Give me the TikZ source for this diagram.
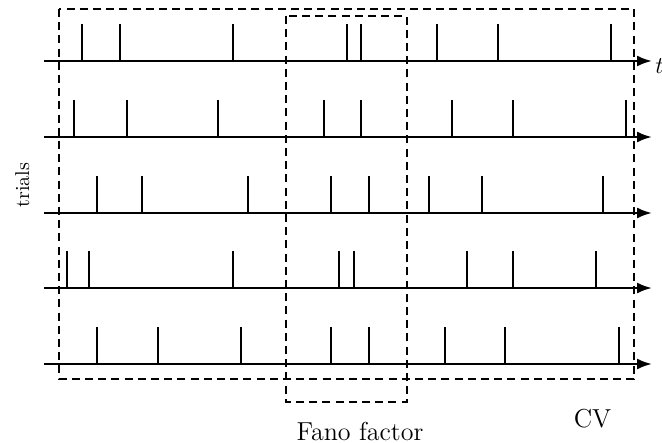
\documentclass[tikz,border=0pt]{standalone}
\usetikzlibrary{arrows.meta}
\begin{document}
\begin{tikzpicture}[x=0.5pt,y=-0.5pt,
  axisline/.style={line width=1.2pt,-{Latex[length=7.5pt,width=5.5pt]}},
  spikeline/.style={line width=1pt},
  boxline/.style={line width=1.1pt,dash pattern=on 4pt off 2.6pt},
  lbl/.style={inner sep=0pt,font=\fontsize{13}{15}\selectfont}]
\useasboundingbox (0,0) rectangle (662,443);
% rows
\foreach \r/\yy/\sp in {1/61/{82,120,233,347,361,437,498,611},
                       2/137/{74,127,218,324,361,452,513,626},
                       3/213/{97,142,248,331,369,429,482,603},
                       4/288/{67,89,233,339,354,467,513,596},
                       5/364/{97,158,241,331,369,445,505,619}}{
  \coordinate (s\r) at (44,\yy);
  \coordinate (e\r) at (652,\yy);
  \draw[axisline] (s\r) -- (e\r);
  \foreach \x in \sp {
    \coordinate (b) at (\x,\yy);
    \coordinate (t) at (\x,\yy-37);
    \draw[spikeline] (b) -- (t);
  }
}
% boxes
\coordinate (cvA) at (59,9);
\coordinate (cvB) at (634,379);
\draw[boxline] (cvA) rectangle (cvB);
\coordinate (fA) at (286,16);
\coordinate (fB) at (407,402);
\draw[boxline] (fA) rectangle (fB);
% labels
\node[lbl,anchor=west] (tl) at ([xshift=1.5pt,yshift=-2.5pt]e1) {$t$};
\node[inner sep=0pt,font=\normalsize,rotate=90,anchor=base] (tr) at (29,185) {trials};
\node[lbl,anchor=base] (fano) at (360,440) {Fano factor};
\node[lbl,anchor=base] (cv) at (592.5,427) {CV};
\end{tikzpicture}
\end{document}
